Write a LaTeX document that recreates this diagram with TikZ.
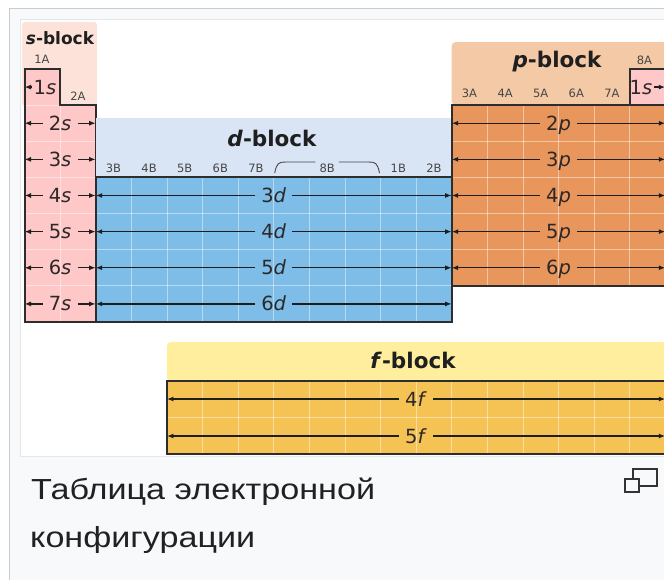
\documentclass[tikz,border=0pt]{standalone}
\usepackage{fontspec}
\setmainfont{DejaVu Sans}
\newfontfamily\capfont{Liberation Sans}
\usetikzlibrary{arrows.meta}
\definecolor{spale}{RGB}{253,226,218}
\definecolor{sfill}{RGB}{255,200,200}
\definecolor{dpale}{RGB}{217,228,245}
\definecolor{dfill}{RGB}{125,189,232}
\definecolor{ppale}{RGB}{243,201,166}
\definecolor{pfill}{RGB}{232,150,92}
\definecolor{fpale}{RGB}{255,238,158}
\definecolor{ffill}{RGB}{244,195,84}
\definecolor{outl}{RGB}{45,45,45}
\definecolor{arrcol}{RGB}{30,30,30}
\definecolor{labcol}{RGB}{45,40,40}
\definecolor{grpcol}{RGB}{70,70,70}
\definecolor{capbg}{RGB}{248,249,250}
\definecolor{framecol}{RGB}{200,204,209}
\definecolor{innercol}{RGB}{228,230,234}
\definecolor{captext}{RGB}{32,33,34}
\def\cw{35.6}
\def\xo{24.5}
\def\rh{36.14}
\def\yo{69}
\newcommand\rowarrow[5]{%
  \coordinate (#1L) at ({#2},{#4});
  \coordinate (#1R) at ({#3},{#4});
  \node[rowlab] (#1) at ({(#2+#3)/2},{#4}) {#5};
  \draw[arr] (#1.west) -- (#1L);
  \draw[arr] (#1.east) -- (#1R);
}
\begin{document}
\begin{tikzpicture}[x=1pt,y=-1pt,
  arr/.style={-{Latex[length=6.5pt,width=5pt]}, line width=1.3pt, draw=arrcol},
  rowlab/.style={font=\fontsize{19.5}{19.5}\selectfont, text=labcol, inner xsep=6pt, inner ysep=0pt, text height=14pt, text depth=0pt},
  blocklab/.style={font=\bfseries\fontsize{21.5}{21.5}\selectfont, text=black!88, inner sep=0pt},
  grp/.style={font=\fontsize{11.5}{11.5}\selectfont, text=grpcol, inner sep=1pt},
  gridl/.style={draw=white, draw opacity=0.45, line width=0.8pt},
  outline/.style={draw=outl, line width=2pt, line join=miter},
  caption/.style={anchor=base west, inner sep=0pt, text=captext, font=\capfont\fontsize{29}{29}\selectfont},
  icon/.style={draw=black!80, line width=1.8pt}
]
\useasboundingbox (0,0) rectangle (664,579);
% thumbnail frames
\draw[draw=framecol, fill=capbg, line width=1pt] (9,8) rectangle (720,620);
\draw[draw=innercol, fill=white, line width=1pt] (20,19) rectangle (720,456);

% ---------------- s-block ----------------
\fill[spale, rounded corners=3pt] (22,22) rectangle (97,106);
\node[blocklab, font=\bfseries\fontsize{17}{17}\selectfont] (slab) at (60,38) {\textit{s}-block};
\node[grp] (g1A) at (42,59) {1A};
\node[grp] (g2A) at (78,96) {2A};
\fill[sfill] ({\xo},{\yo}) -- ({\xo+\cw},{\yo}) -- ({\xo+\cw},{\yo+\rh}) -- ({\xo+2*\cw},{\yo+\rh})
  -- ({\xo+2*\cw},{\yo+7*\rh}) -- ({\xo},{\yo+7*\rh}) -- cycle;
\draw[gridl] ({\xo+\cw},{\yo+\rh}) -- ({\xo+\cw},{\yo+7*\rh});
\draw[gridl] ({\xo},{\yo+\rh}) -- ({\xo+\cw},{\yo+\rh});
\foreach \r in {2,...,6} \draw[gridl] ({\xo},{\yo+\r*\rh}) -- ({\xo+2*\cw},{\yo+\r*\rh});
% 1s (left)
\node[rowlab, inner xsep=2pt] (s1) at (45,{\yo+0.5*\rh}) {1\textit{s}};
\coordinate (s1L) at ({\xo},{\yo+0.5*\rh});
\draw[arr] (s1.west) -- (s1L);
\foreach \r in {2,...,7}{
  \rowarrow{s\r}{\xo}{\xo+2*\cw}{\yo+(\r-0.5)*\rh}{\r\textit{s}}
}
\draw[outline] ({\xo},{\yo}) -- ({\xo+\cw},{\yo}) -- ({\xo+\cw},{\yo+\rh}) -- ({\xo+2*\cw},{\yo+\rh})
  -- ({\xo+2*\cw},{\yo+7*\rh}) -- ({\xo},{\yo+7*\rh}) -- cycle;

% ---------------- d-block ----------------
\fill[dpale] ({\xo+2*\cw},118) rectangle ({\xo+12*\cw},{\yo+3*\rh});
\node[blocklab] (dlab) at (272,138) {\textit{d}-block};
\foreach \c/\t in {3/3B,4/4B,5/5B,6/6B,7/7B,11/1B,12/2B}{
  \node[grp] (g\t) at ({\xo+(\c-0.5)*\cw},168) {\t};
}
\node[grp, inner xsep=4pt] (g8B) at ({\xo+8.5*\cw},168) {8B};
\coordinate (b8l) at ({\xo+7*\cw+1},173);
\coordinate (b8r) at ({\xo+10*\cw-1},173);
\coordinate (h8) at (0,162);
\draw[grpcol, line width=0.9pt] (b8l) .. controls ({\xo+7*\cw+3},163) and ({\xo+7*\cw+5},162) .. ({\xo+7*\cw+12},162) -- (g8B.west |- h8);
\draw[grpcol, line width=0.9pt] (b8r) .. controls ({\xo+10*\cw-3},163) and ({\xo+10*\cw-5},162) .. ({\xo+10*\cw-12},162) -- (g8B.east |- h8);
\fill[dfill] ({\xo+2*\cw},{\yo+3*\rh}) rectangle ({\xo+12*\cw},{\yo+7*\rh});
\foreach \c in {3,...,11} \draw[gridl] ({\xo+\c*\cw},{\yo+3*\rh}) -- ({\xo+\c*\cw},{\yo+7*\rh});
\foreach \r in {4,5,6} \draw[gridl] ({\xo+2*\cw},{\yo+\r*\rh}) -- ({\xo+12*\cw},{\yo+\r*\rh});
\foreach \r/\n in {4/3,5/4,6/5,7/6}{
  \rowarrow{d\n}{\xo+2*\cw}{\xo+12*\cw}{\yo+(\r-0.5)*\rh}{\n\textit{d}}
}
\draw[outline] ({\xo+2*\cw},{\yo+3*\rh}) rectangle ({\xo+12*\cw},{\yo+7*\rh});

% ---------------- p-block ----------------
\fill[ppale, rounded corners=4pt] ({\xo+12*\cw},42) rectangle (700,{\yo+\rh});
\node[blocklab] (plab) at (557,62) {\textit{p}-block};
\foreach \c/\t in {13/3A,14/4A,15/5A,16/6A,17/7A}{
  \node[grp] (g\t) at ({\xo+(\c-0.5)*\cw},93) {\t};
}
\node[grp] (g8A) at ({\xo+17.5*\cw-3},60) {8A};
\fill[pfill] ({\xo+12*\cw},{\yo+\rh}) rectangle ({\xo+18*\cw},{\yo+6*\rh});
\foreach \c in {13,...,17} \draw[gridl] ({\xo+\c*\cw},{\yo+\rh}) -- ({\xo+\c*\cw},{\yo+6*\rh});
\foreach \r in {2,...,5} \draw[gridl] ({\xo+12*\cw},{\yo+\r*\rh}) -- ({\xo+18*\cw},{\yo+\r*\rh});
\foreach \r in {2,...,6}{
  \rowarrow{p\r}{\xo+12*\cw}{\xo+18*\cw}{\yo+(\r-0.5)*\rh}{\r\textit{p}}
}
\draw[outline] ({\xo+12*\cw},{\yo+\rh}) rectangle ({\xo+18*\cw},{\yo+6*\rh});
% 1s (right)
\fill[sfill] ({\xo+17*\cw},{\yo}) rectangle ({\xo+18*\cw},{\yo+\rh});
\node[rowlab, inner xsep=2pt] (s1b) at (641,{\yo+0.5*\rh}) {1\textit{s}};
\coordinate (s1bR) at ({\xo+18*\cw},{\yo+0.5*\rh});
\draw[arr] (s1b.east) -- (s1bR);
\draw[outline] ({\xo+17*\cw},{\yo}) rectangle ({\xo+18*\cw},{\yo+\rh});

% ---------------- f-block ----------------
\fill[fpale, rounded corners=4pt] ({\xo+4*\cw},342) rectangle (700,381);
\node[blocklab] (flab) at (413,360) {\textit{f}-block};
\fill[ffill] ({\xo+4*\cw},381) rectangle ({\xo+18*\cw},454);
\foreach \c in {5,...,17} \draw[gridl] ({\xo+\c*\cw},381) -- ({\xo+\c*\cw},454);
\draw[gridl] ({\xo+4*\cw},417.5) -- ({\xo+18*\cw},417.5);
\rowarrow{f4}{\xo+4*\cw}{\xo+18*\cw}{399}{4\textit{f}}
\rowarrow{f5}{\xo+4*\cw}{\xo+18*\cw}{436}{5\textit{f}}
\draw[outline] ({\xo+4*\cw},381) rectangle ({\xo+18*\cw},454);

% ---------------- caption ----------------
\node[caption] (cap1) at (31,499) {\resizebox{344pt}{\height}{Таблица электронной}};
\node[caption] (cap2) at (30,547) {\resizebox{225pt}{\height}{конфигурации}};
% enlarge icon
\draw[icon] (633,469) rectangle (657,486);
\filldraw[icon, fill=capbg] (625,479) rectangle (639,492);
\end{tikzpicture}
\end{document}
